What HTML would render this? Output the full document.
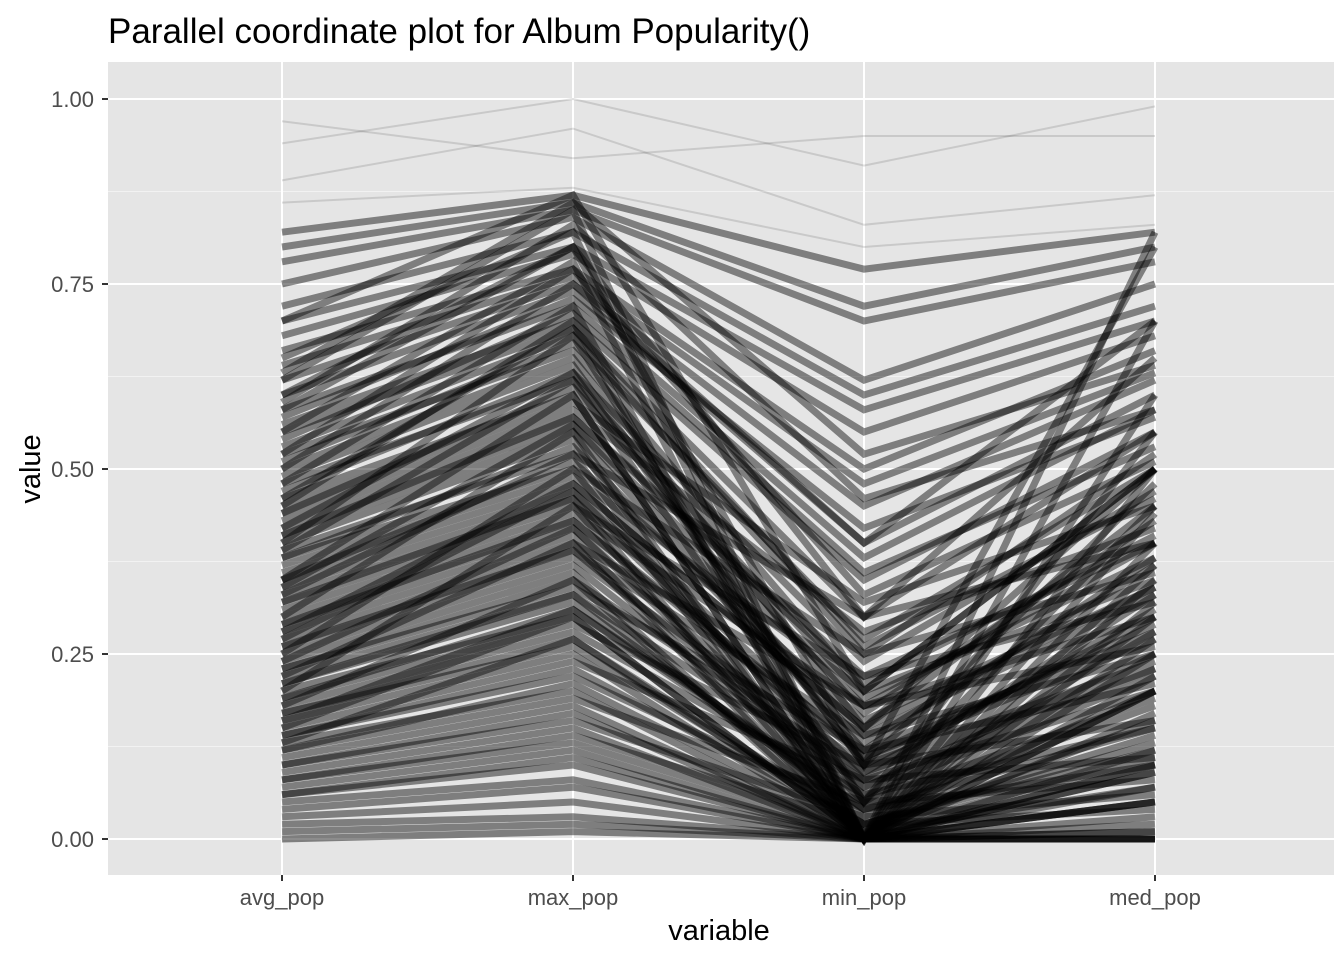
<!DOCTYPE html>
<html><head><meta charset="utf-8">
<style>
body{margin:0;background:#fff;font-family:"Liberation Sans",Arial,sans-serif;}
svg{display:block}
</style></head>
<body>
<svg id="chart" width="1344" height="960" xmlns="http://www.w3.org/2000/svg">
<text x="108" y="43" font-size="35" fill="#000">Parallel coordinate plot for Album Popularity()</text>
<rect x="108" y="62" width="1226" height="813" fill="#e5e5e5"/>
<g id="grid"></g>
<g id="lines"></g>
<g id="axes"></g>
<text x="719" y="940" font-size="29" text-anchor="middle" fill="#000">variable</text>
<text transform="translate(40,469) rotate(-90)" font-size="29" text-anchor="middle" fill="#000">value</text>
</svg>
<script>
const categories=["avg_pop","max_pop","min_pop","med_pop"];
const yTicks=[0,0.25,0.5,0.75,1];
const yTickLabels=["0.00","0.25","0.50","0.75","1.00"];
const avgPop=[0.97,0.94,0.89,0.86,0.82,0.80,0.78,0.75,0.72,0.70,0.68,0.66,0.64,0.62,0.60,0.58,0.56,0.55,0.53,0.52,0.50,0.49,0.48,0.46,0.45,0.44,0.43,0.42,0.41,0.40,0.39,0.38,0.37,0.36,0.35,0.34,0.33,0.32,0.31,0.30,0.29,0.28,0.27,0.26,0.25,0.24,0.23,0.22,0.21,0.20,0.19,0.18,0.17,0.16,0.15,0.14,0.13,0.12,0.11,0.10,0.09,0.08,0.07,0.06,0.05,0.04,0.03,0.02,0.01,0.00,0.65,0.60,0.55,0.50,0.45,0.40,0.35,0.30,0.25,0.20,0.70,0.62,0.58,0.48,0.42,0.33,0.28,0.22,0.18,0.15,
0.57,0.54,0.51,0.47,0.44,0.41,0.38,0.35,0.32,0.29,0.26,0.23,0.21,0.19,0.17,0.14,0.12,0.10,0.08,0.06,0.63,0.59,0.52,0.46,0.39,0.34,0.27,0.24,0.16,0.13];
const maxPop=[0.92,1.00,0.96,0.88,0.87,0.86,0.85,0.84,0.82,0.80,0.79,0.77,0.76,0.75,0.74,0.72,0.70,0.69,0.68,0.66,0.65,0.64,0.62,0.60,0.59,0.58,0.57,0.56,0.55,0.54,0.52,0.50,0.49,0.48,0.47,0.46,0.45,0.44,0.43,0.42,0.41,0.40,0.39,0.38,0.37,0.36,0.34,0.33,0.32,0.30,0.29,0.28,0.26,0.25,0.24,0.22,0.20,0.19,0.18,0.16,0.15,0.14,0.12,0.10,0.08,0.07,0.05,0.03,0.02,0.01,0.82,0.80,0.78,0.75,0.70,0.68,0.60,0.55,0.50,0.45,0.87,0.85,0.80,0.72,0.63,0.52,0.48,0.40,0.35,0.30,
0.73,0.71,0.67,0.63,0.61,0.57,0.53,0.51,0.46,0.43,0.39,0.35,0.33,0.31,0.27,0.23,0.21,0.17,0.13,0.11,0.86,0.83,0.77,0.69,0.62,0.56,0.47,0.42,0.31,0.27];
const minPop=[0.95,0.91,0.83,0.80,0.77,0.72,0.70,0.62,0.60,0.58,0.55,0.50,0.48,0.45,0.40,0.38,0.35,0.30,0.25,0.20,0.15,0.10,0.05,0.00,0.32,0.28,0.22,0.18,0.12,0.00,0.30,0.25,0.20,0.15,0.08,0.00,0.22,0.18,0.12,0.05,0.00,0.18,0.14,0.10,0.06,0.00,0.12,0.08,0.04,0.00,0.10,0.06,0.02,0.00,0.08,0.04,0.00,0.05,0.00,0.03,0.00,0.02,0.00,0.00,0.00,0.00,0.00,0.00,0.00,0.00,0.00,0.10,0.00,0.40,0.00,0.05,0.00,0.00,0.00,0.00,0.20,0.00,0.30,0.00,0.10,0.00,0.15,0.00,0.00,0.00,
0.42,0.36,0.27,0.24,0.17,0.21,0.13,0.16,0.09,0.11,0.07,0.09,0.03,0.05,0.01,0.02,0.01,0.00,0.01,0.00,0.52,0.46,0.33,0.26,0.19,0.14,0.11,0.07,0.04,0.02];
const medPop=[0.95,0.99,0.87,0.83,0.82,0.80,0.78,0.75,0.72,0.70,0.68,0.66,0.63,0.62,0.60,0.58,0.55,0.55,0.52,0.50,0.50,0.48,0.45,0.44,0.45,0.42,0.40,0.40,0.38,0.37,0.40,0.36,0.35,0.34,0.33,0.32,0.32,0.30,0.28,0.28,0.27,0.26,0.25,0.24,0.22,0.22,0.21,0.20,0.18,0.17,0.16,0.15,0.14,0.12,0.11,0.10,0.09,0.08,0.07,0.06,0.05,0.04,0.03,0.02,0.01,0.01,0.00,0.00,0.00,0.00,0.30,0.80,0.10,0.70,0.60,0.55,0.82,0.50,0.40,0.35,0.50,0.20,0.65,0.70,0.30,0.20,0.45,0.05,0.25,0.10,
0.57,0.53,0.50,0.47,0.43,0.41,0.37,0.34,0.31,0.29,0.25,0.23,0.20,0.19,0.16,0.13,0.11,0.09,0.07,0.05,0.64,0.58,0.51,0.46,0.38,0.33,0.27,0.23,0.15,0.12];
const NS="http://www.w3.org/2000/svg";
const xScale=i=>282+i*291;
const yScale=v=>839-v*740;
function mk(tag,attrs,parent){const e=document.createElementNS(NS,tag);for(const k in attrs)e.setAttribute(k,attrs[k]);parent.appendChild(e);return e;}
const grid=document.getElementById('grid'),lines=document.getElementById('lines'),axes=document.getElementById('axes');
for(let v=0.125;v<1.05;v+=0.25){const l=mk('line',{x1:108,x2:1334,y1:yScale(v),y2:yScale(v),stroke:'#f2f2f2','stroke-width':1},grid);

}
yTicks.forEach((v,i)=>{const l=mk('line',{x1:108,x2:1334,y1:yScale(v),y2:yScale(v),stroke:'#fff','stroke-width':2},grid);


const t=mk('line',{x1:102,x2:108,y1:yScale(v),y2:yScale(v),stroke:'#333','stroke-width':2},axes);


const tx=mk('text',{x:94,y:yScale(v)+8,'font-size':22,'text-anchor':'end',fill:'#4d4d4d'},axes);tx.textContent=yTickLabels[i];

});
categories.forEach((c,i)=>{const l=mk('line',{x1:xScale(i),x2:xScale(i),y1:62,y2:875,stroke:'#fff','stroke-width':2},grid);


const t=mk('line',{x1:xScale(i),x2:xScale(i),y1:875,y2:881,stroke:'#333','stroke-width':2},axes);


const tx=mk('text',{x:xScale(i),y:905,'font-size':22,'text-anchor':'middle',fill:'#4d4d4d'},axes);tx.textContent=c;

});
for(let r=0;r<avgPop.length;r++){const vals=[avgPop[r],maxPop[r],minPop[r],medPop[r]];
const pts=vals.map((v,i)=>xScale(i)+','+yScale(v)).join(' ');
const hi=avgPop[r]>0.85;
const p=mk('polyline',{points:pts,fill:'none',stroke:'#000','stroke-opacity':hi?0.12:0.45,'stroke-width':hi?2:7},lines);

}
</script>
</body></html>
